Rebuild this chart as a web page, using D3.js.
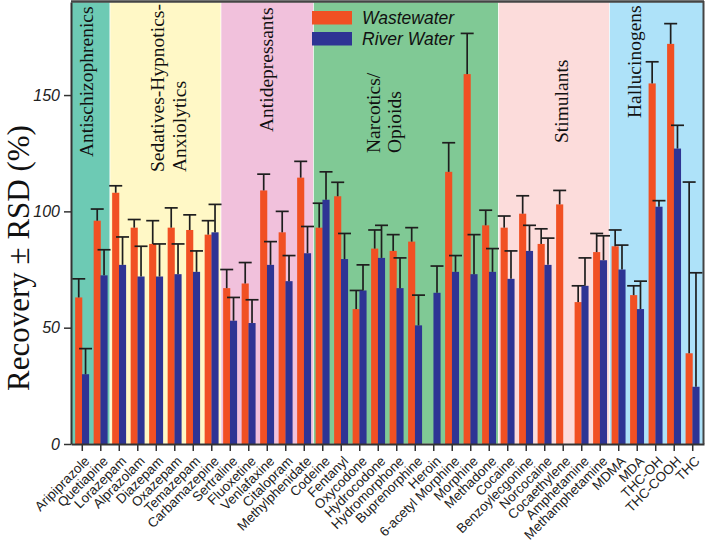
<!DOCTYPE html>
<html>
<head>
<meta charset="utf-8">
<script src="https://cdn.jsdelivr.net/npm/d3@7"></script>
<style>
  html, body { margin: 0; padding: 0; background: #fff; }
  svg { display: block; }
</style>
</head>
<body>
<script>
// ---------------- DATA ----------------
const categories = ["Aripiprazole","Quetiapine","Lorazepam","Alprazolam","Diazepam","Oxazepam","Temazepam","Carbamazepine",
  "Sertraline","Fluoxetine","Venlafaxine","Citalopram","Methylphenidate",
  "Codeine","Fentanyl","Oxycodone","Hydrocodone","Hydromorphone","Buprenorphine","Heroin","6-acetyl Morphine","Morphine","Methadone",
  "Cocaine","Benzoylecgonine","Norcocaine","Cocaethylene","Amphetamine","Methamphetamine",
  "MDMA","MDA","THC-OH","THC-COOH","THC"];

const wastewater    = [63, 96, 108, 93, 86, 93, 92, 90, 67, 69, 109, 91, 114.5, 93, 106.5, 58, 84, 83, 87, null, 117, 159, 94, 93, 99, 86, 103, 61, 82.5, 85, 64, 155, 172, 39];
const wastewaterRSD = [8, 5, 3, 3.5, 10, 8.5, 6.5, 6, 8, 9, 7, 9, 7, 10.5, 6, 8, 8, 7, 6, null, 12.5, 17.5, 6.5, 5, 7.7, 6.5, 6, 7, 8, 7, 4, 9.3, 8.7, 73.6];
const riverWater    = [30, 72.5, 77, 72, 72, 73, 74, 91, 53, 52, 77, 70, 82, 105, 79.5, 66, 80, 67, 51, 65, 74, 73, 74, 71, 83, 77, null, 68, 79, 75, 58, 102, 127, 24.6];
const riverWaterRSD = [11, 11, 12, 13, 14, 13, 9, 12, 10, 10, 10, 11, 11.5, 12, 11, 11, 14, 13, 13, 11.5, 7, 17, 10, 12, 11, 11.5, null, 12, 10.5, 10.5, 12, 2.6, 10, 49];

const seriesNames = ["Wastewater", "River Water"];
const yTicks = [0, 50, 100, 150];
const yTitle = "Recovery \u00b1 RSD (%)";

const groupLabels = [["Antischizophrenics"], ["Sedatives-Hypnotics-", "Anxiolytics"], ["Antidepressants"],
  ["Narcotics/", "Opioids"], ["Stimulants"], ["Hallucinogens"]];
const groupFirst = ["Aripiprazole", "Lorazepam", "Sertraline", "Codeine", "Cocaine", "MDMA"];
const groupLast  = ["Quetiapine", "Carbamazepine", "Methylphenidate", "Methadone", "Methamphetamine", "THC"];

// ---------------- STYLE / LAYOUT ----------------
const groupColors = ["#6dcab4", "#fff8c6", "#f1c1dc", "#80c995", "#fcdcdb", "#aee2f9"];
const seriesColors = ["#f15023", "#2e3494"];
// label positions (center x of each line, bottom y where text starts)
const groupLabelX = [[87], [158, 180], [266.5], [373.5, 395], [561.5], [635]];
const groupLabelBottom = [157, 172, 132, 153, 143, 118];

const W = 705, H = 544;
const L = 71, R = 704, T = 2, B = 444;

const svg = d3.select("body").append("svg").attr("width", W).attr("height", H);

const x = d3.scaleBand().domain(categories).range([L, R]).paddingInner(0).paddingOuter(0.11);
const y = d3.scaleLinear().domain([0, 190]).range([B, T]);

const serif = "'Liberation Serif', 'Times New Roman', serif";
const sans = "'Liberation Sans', Arial, sans-serif";

// group backgrounds
const gBg = svg.append("g");
groupLabels.forEach((lab, i) => {
  const x0 = i === 0 ? L : x(groupFirst[i]);
  const x1 = i === groupLabels.length - 1 ? R : x(groupLast[i]) + x.step();
  gBg.append("rect")
    .attr("x", x0).attr("y", T).attr("width", x1 - x0).attr("height", B - T)
    .attr("fill", groupColors[i])
    .attr("stroke", "#ffffff").attr("stroke-opacity", 0.6).attr("stroke-width", 1);
});

// group labels
groupLabels.forEach((lines, i) => {
  lines.forEach((txt, j) => {
    svg.append("text")
      .attr("transform", `translate(${groupLabelX[i][j]},${groupLabelBottom[i]}) rotate(-90)`)
      .attr("dy", "0.33em")
      .attr("text-anchor", "start")
      .attr("font-family", serif)
      .attr("font-size", 19.5)
      .attr("fill", "#111")
      .text(txt);
  });
});

// bars + error bars
const barW = x.step() * 0.385;
const capW = 13;
const seriesVals = [wastewater, riverWater];
const seriesErr = [wastewaterRSD, riverWaterRSD];
const offsets = [-barW, -0.3];

seriesVals.forEach((vals, s) => {
  const g = svg.append("g");
  const data = categories.map((c, i) => ({c, v: vals[i], e: seriesErr[s][i]})).filter(d => d.v != null);
  g.selectAll("rect").data(data).join("rect")
    .attr("x", d => x(d.c) + x.step() / 2 + offsets[s])
    .attr("y", d => y(d.v))
    .attr("width", barW)
    .attr("height", d => y(0) - y(d.v))
    .attr("fill", seriesColors[s]);
  const eg = g.append("g").attr("stroke", "#1e1e1e").attr("stroke-width", 1.7);
  data.forEach(d => {
    const cx = x(d.c) + x.step() / 2 + offsets[s] + barW / 2;
    eg.append("line").attr("x1", cx).attr("x2", cx).attr("y1", y(d.v)).attr("y2", y(d.v + d.e));
    eg.append("line").attr("x1", cx - capW / 2).attr("x2", cx + capW / 2).attr("y1", y(d.v + d.e)).attr("y2", y(d.v + d.e));
  });
});

// axes
const axisColor = "#333";
const yAxis = svg.append("g").attr("transform", `translate(${L},0)`)
  .call(d3.axisLeft(y).tickValues(yTicks).tickSize(7).tickSizeOuter(0).tickPadding(4));
yAxis.selectAll("text").attr("font-family", sans).attr("font-size", 16).attr("font-style", "italic").attr("fill", "#222");

const xAxis = svg.append("g").attr("transform", `translate(0,${B})`)
  .call(d3.axisBottom(x).tickSize(7).tickSizeOuter(0));
xAxis.selectAll("text")
  .attr("font-family", sans).attr("font-size", 13.4).attr("fill", "#222")
  .attr("text-anchor", "end")
  .attr("transform", "translate(-1,9) rotate(-45)")
  .attr("x", 0).attr("y", 8).attr("dy", "0.35em");

[yAxis, xAxis].forEach(a => {
  a.selectAll("path.domain").attr("stroke", axisColor).attr("stroke-width", 2);
  a.selectAll(".tick line").attr("stroke", axisColor).attr("stroke-width", 1.5);
});

// frame top/right
svg.append("line").attr("x1", L).attr("x2", R).attr("y1", 1.5).attr("y2", 1.5).attr("stroke", "#444").attr("stroke-width", 2.5);
svg.append("line").attr("x1", R - 0.5).attr("x2", R - 0.5).attr("y1", 1).attr("y2", B).attr("stroke", "#444").attr("stroke-width", 2);

// y title
svg.append("text")
  .attr("transform", `translate(29,258) rotate(-90)`)
  .attr("text-anchor", "middle")
  .attr("font-family", serif)
  .attr("font-size", 31)
  .attr("fill", "#111")
  .text(yTitle);

// legend
seriesNames.forEach((n, i) => {
  svg.append("rect").attr("x", 312).attr("y", 11 + i * 21).attr("width", 40).attr("height", 13.5).attr("fill", seriesColors[i]);
  svg.append("text").attr("x", 362).attr("y", 24 + i * 21)
    .attr("font-family", sans).attr("font-size", 17.5).attr("font-style", "italic").attr("fill", "#111")
    .text(n);
});
</script>
</body>
</html>
